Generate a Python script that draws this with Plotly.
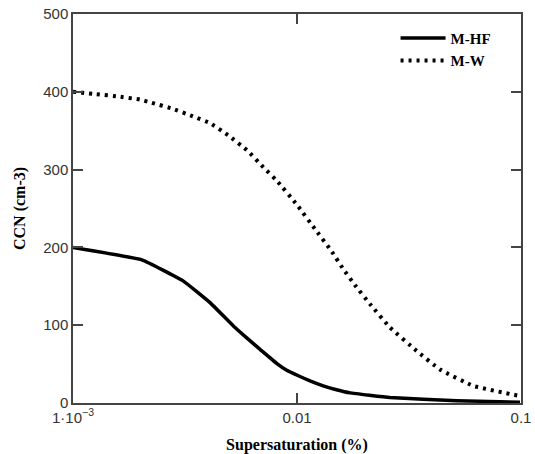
import plotly.graph_objects as go

# M-HF (solid)
hf_x = [0.001, 0.00203, 0.00310, 0.00409, 0.00520, 0.00600, 0.00684, 0.00811, 0.00900, 0.01014, 0.01150, 0.01309,
        0.01500, 0.01726, 0.0260, 0.0516, 0.0990]
hf_y = [200, 184, 157, 129, 99, 83, 69, 51, 42, 35, 28, 22,
        17, 13, 7, 3, 1]

# M-W (dotted)
mw_x = [0.001, 0.00127, 0.00159, 0.00199, 0.00224, 0.00280, 0.00339, 0.00408, 0.00499, 0.00603, 0.00708, 0.00811, 0.00998,
        0.0120, 0.0142, 0.0161, 0.0182, 0.0212, 0.0260, 0.0342, 0.0435, 0.0612, 0.0990]
mw_y = [400, 397, 394, 390, 386, 378, 369, 360, 343, 324, 303, 286, 255,
        224, 196, 172, 151, 127, 97, 67, 43, 22, 9]

x_tickvals = [0.001, 0.01, 0.1]
x_ticktext = ["1\u00b710<sup>\u22123</sup>", "0.01", "0.1"]
y_tickvals = [0, 100, 200, 300, 400, 500]

fig = go.Figure()
fig.add_trace(go.Scatter(x=hf_x, y=hf_y, mode="lines", name="<b>M-HF</b>",
                         line=dict(color="black", width=3.5, shape="spline", smoothing=0.3)))
fig.add_trace(go.Scatter(x=mw_x, y=mw_y, mode="lines", name="<b>M-W</b>",
                         line=dict(color="black", width=4, dash="3px,5px", shape="spline", smoothing=0.3)))

axis_common = dict(showgrid=False, zeroline=False, showline=True, linecolor="#444444", linewidth=1.5,
                   ticks="inside", ticklen=10, tickcolor="#444444", tickwidth=1.5, mirror="ticks",
                   automargin=False,
                   tickfont=dict(family="Liberation Sans", size=15, color="#333333"))

fig.update_xaxes(type="log", range=[-3, -1], tickvals=x_tickvals, ticktext=x_ticktext,
                 title=dict(text="<b>Supersaturation (%)</b>",
                            font=dict(family="Liberation Serif", size=16, color="black"), standoff=14),
                 **axis_common)
fig.update_yaxes(range=[0, 500], tickvals=y_tickvals,
                 title=dict(text="<b>CCN (cm-3)</b>",
                            font=dict(family="Liberation Serif", size=16, color="black"), standoff=14),
                 **axis_common)

fig.update_layout(
    width=535, height=454,
    margin=dict(l=73, r=14, t=14, b=51),
    paper_bgcolor="white", plot_bgcolor="white",
    showlegend=True,
    legend=dict(x=0.72, y=0.98, xanchor="left", yanchor="top", bgcolor="rgba(0,0,0,0)",
                font=dict(family="Liberation Serif", size=15, color="black"),
                itemwidth=45, tracegroupgap=0),
)

fig.write_html("out.html")
